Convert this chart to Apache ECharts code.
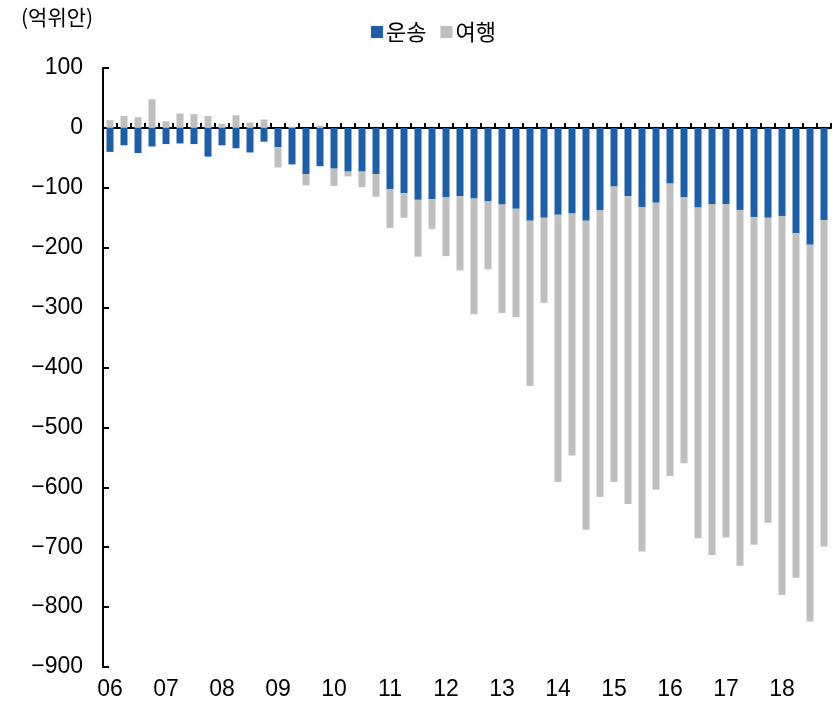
<!DOCTYPE html>
<html>
<head>
<meta charset="utf-8">
<script src="https://cdn.jsdelivr.net/npm/echarts@6/dist/echarts.min.js"></script>
<style>
  html, body { margin: 0; padding: 0; background: #fff; }
  #chart { width: 840px; height: 706px; }
</style>
</head>
<body>
<div id="chart"></div>
<script>
// quarterly, 2006 Q1 .. 2018 Q4
var years = ['06', '07', '08', '09', '10', '11', '12', '13', '14', '15', '16', '17', '18']
var quarters = ['1Q', '2Q', '3Q', '4Q']

// 운송 (transport)
var transport = [
  -40, -29, -42, -31,
  -27, -26, -27, -48,
  -29, -34, -41, -23,
  -32, -61, -77, -64,
  -68, -73, -73, -77,
  -102, -109, -120, -119,
  -116, -114, -118, -122,
  -128, -135, -155, -150,
  -145, -143, -155, -137,
  -98, -114, -132, -125,
  -93, -116, -133, -127,
  -127, -137, -149, -150,
  -147, -176, -195, -154
]

// 여행 (travel)
var travel = [
  13, 20, 18, 48,
  11, 24, 23, 20,
  7, 21, 9, 14,
  -34, 2, -19, 4,
  -29, -8, -26, -38,
  -65, -41, -95, -50,
  -98, -124, -193, -114,
  -181, -181, -276, -142,
  -446, -404, -516, -479,
  -493, -514, -575, -479,
  -488, -444, -552, -586,
  -557, -594, -547, -509,
  -633, -575, -629, -545
]

var yTicks = { min: -900, max: 100, interval: 100 }

var categories = []
years.forEach(function (y) {
  quarters.forEach(function (q) {
    categories.push(y + '.' + q)
  })
})

var krFont = '"Noto Sans CJK KR", "Noto Sans", sans-serif'
var numFont = '"Liberation Sans", Arial, sans-serif'

var chart = echarts.init(document.getElementById('chart'))
chart.setOption({
  backgroundColor: '#fff',
  animation: false,
  textStyle: { fontFamily: krFont },
  title: {
    text: '(억위안)',
    left: 16,
    top: 2,
    textStyle: { fontFamily: krFont, fontSize: 21, fontWeight: 'normal', color: '#000' }
  },
  legend: {
    top: 16,
    left: 366,
    itemWidth: 12,
    itemHeight: 12,
    itemGap: 14,
    icon: 'rect',
    textStyle: { fontFamily: krFont, fontSize: 22, color: '#000', padding: [0, 0, 0, -2] },
    data: ['운송', '여행']
  },
  grid: {
    left: 103,
    right: 9,
    top: 68,
    bottom: 39
  },
  xAxis: [
    {
      type: 'category',
      data: categories,
      axisLine: { onZero: true, lineStyle: { color: '#000', width: 2 } },
      axisTick: { show: true, inside: true, length: 5, interval: 0, lineStyle: { color: '#000', width: 2 } },
      axisLabel: { show: false }
    },
    {
      type: 'category',
      position: 'bottom',
      data: categories,
      axisLine: { show: false, onZero: false },
      axisTick: { show: false },
      axisLabel: {
        interval: function (i) { return i % 4 === 0 },
        formatter: function (v) { return v.split('.')[0] },
        margin: 11,
        fontFamily: numFont,
        fontSize: 23,
        color: '#000'
      }
    }
  ],
  yAxis: {
    type: 'value',
    min: yTicks.min,
    max: yTicks.max,
    interval: yTicks.interval,
    axisLine: { show: true, lineStyle: { color: '#000', width: 2 } },
    axisTick: { show: true, inside: true, length: 6, lineStyle: { color: '#000', width: 2 } },
    splitLine: { show: false },
    axisLabel: {
      margin: 20,
      fontFamily: numFont,
      fontSize: 23,
      color: '#000',
      formatter: function (v) { return String(v).replace('-', '\u2212') }
    }
  },
  series: [
    {
      name: '운송',
      type: 'bar',
      stack: 'total',
      data: transport,
      barWidth: 7,
      itemStyle: { color: '#1c5ea9' }
    },
    {
      name: '여행',
      type: 'bar',
      stack: 'total',
      data: travel,
      barWidth: 7,
      itemStyle: { color: '#bfbfbf' }
    }
  ]
})
</script>
</body>
</html>
